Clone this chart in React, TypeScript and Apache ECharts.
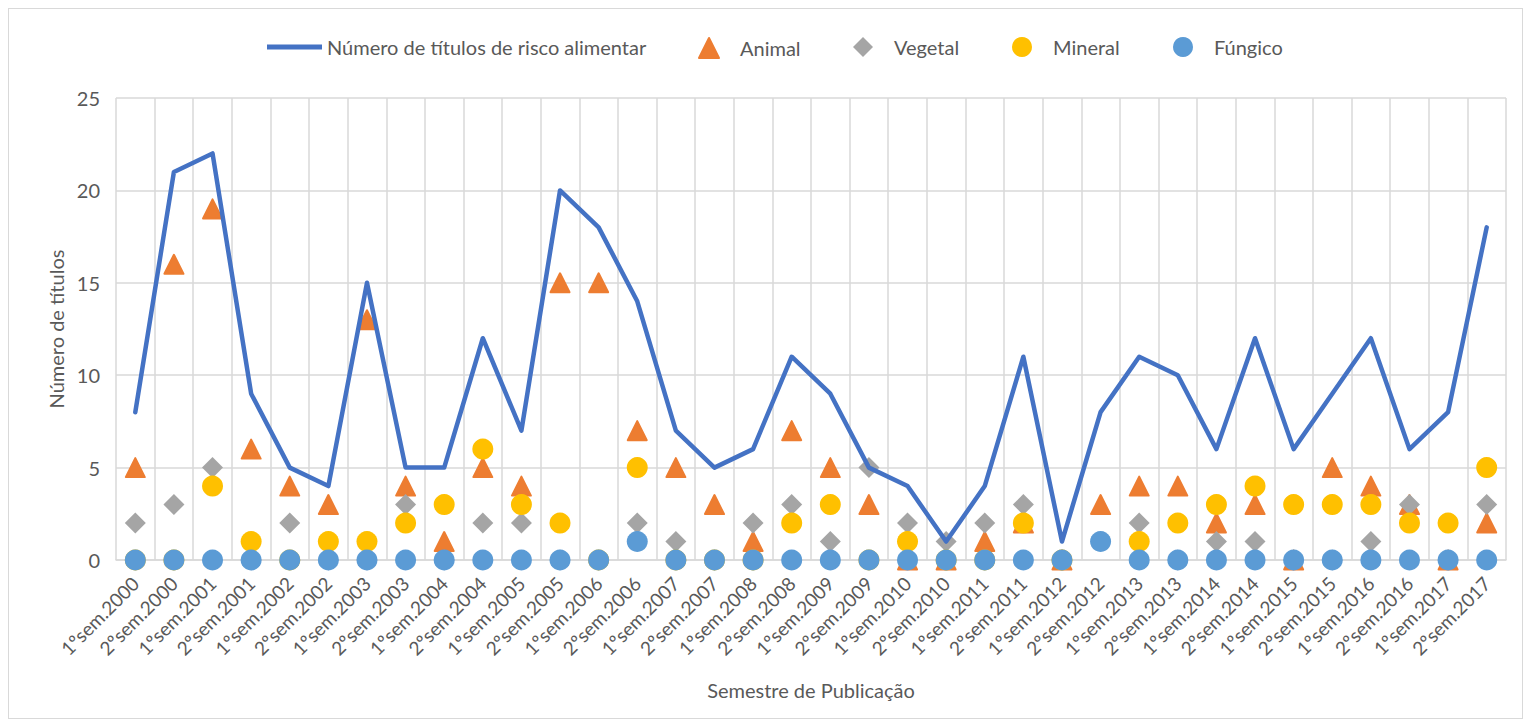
import React, { useEffect, useRef } from "react";
import * as echarts from "echarts";

const categories = [
  "1ºsem.2000", "2ºsem.2000", "1ºsem.2001", "2ºsem.2001", "1ºsem.2002", "2ºsem.2002",
  "1ºsem.2003", "2ºsem.2003", "1ºsem.2004", "2ºsem.2004", "1ºsem.2005", "2ºsem.2005",
  "1ºsem.2006", "2ºsem.2006", "1ºsem.2007", "2ºsem.2007", "1ºsem.2008", "2ºsem.2008",
  "1ºsem.2009", "2ºsem.2009", "1ºsem.2010", "2ºsem.2010", "1ºsem.2011", "2ºsem.2011",
  "1ºsem.2012", "2ºsem.2012", "1ºsem.2013", "2ºsem.2013", "1ºsem.2014", "2ºsem.2014",
  "1ºsem.2015", "2ºsem.2015", "1ºsem.2016", "2ºsem.2016", "1ºsem.2017", "2ºsem.2017",
];

const totalTitles = [8, 21, 22, 9, 5, 4, 15, 5, 5, 12, 7, 20, 18, 14, 7, 5, 6, 11, 9, 5, 4, 1, 4, 11, 1, 8, 11, 10, 6, 12, 6, 9, 12, 6, 8, 18];
const animal = [5, 16, 19, 6, 4, 3, 13, 4, 1, 5, 4, 15, 15, 7, 5, 3, 1, 7, 5, 3, 0, 0, 1, 2, 0, 3, 4, 4, 2, 3, 0, 5, 4, 3, 0, 2];
const vegetal = [2, 3, 5, 0, 2, 0, 0, 3, 0, 2, 2, 0, 0, 2, 1, 0, 2, 3, 1, 5, 2, 1, 2, 3, 0, null, 2, 0, 1, 1, 0, 0, 1, 3, 0, 3];
const mineral = [0, 0, 4, 1, 0, 1, 1, 2, 3, 6, 3, 2, 0, 5, 0, 0, 0, 2, 3, 0, 1, 0, 0, 2, 0, null, 1, 2, 3, 4, 3, 3, 3, 2, 2, 5];
const fungico = [0, 0, 0, 0, 0, 0, 0, 0, 0, 0, 0, 0, 0, 1, 0, 0, 0, 0, 0, 0, 0, 0, 0, 0, 0, 1, 0, 0, 0, 0, 0, 0, 0, 0, 0, 0];

const yTicks = [0, 5, 10, 15, 20, 25];

const LINE_NAME = "Número de títulos de risco alimentar";
const scatterNames = ["Animal", "Vegetal", "Mineral", "Fúngico"];
const scatterIcons = ["triangle", "diamond", "circle", "circle"];
const scatterColors = ["#ED7D31", "#A5A5A5", "#FFC000", "#5B9BD5"];
const legendLefts = [689, 844, 1003, 1164];

const FONT = "Lato, 'Liberation Sans', sans-serif";
const TXT = "#595959";

export default function App() {
  const ref = useRef<HTMLDivElement>(null);
  useEffect(() => {
    if (!ref.current) return;
    const chart = echarts.init(ref.current, undefined, { renderer: "svg" });
    const scatter = (name: string, data: (number | null)[], symbol: string, color: string, size: number) => ({
      name,
      type: "scatter",
      data: data.map((v) => (v === null ? "-" : v)),
      symbol,
      symbolSize: size,
      itemStyle: { color, borderColor: color, borderWidth: symbol === "triangle" ? 2 : 0, borderJoin: "round", opacity: 1 },
      emphasis: { disabled: true },
    });
    const legendText = { fontFamily: FONT, fontSize: 20, color: TXT, lineHeight: 20 };
    const legends: any[] = [
      {
        top: 28,
        left: 258,
        padding: 0,
        itemWidth: 55,
        itemHeight: 5,
        textStyle: legendText,
        data: [{ name: LINE_NAME, icon: "rect", itemStyle: { color: "#4472C4" } }],
      },
    ];
    scatterNames.forEach((n, i) => {
      legends.push({
        top: 28,
        left: legendLefts[i],
        padding: 0,
        itemWidth: 20,
        itemHeight: 20,
        textStyle: { ...legendText, padding: [0, 0, 0, 16] },
        data: [{ name: n, icon: scatterIcons[i] }],
      });
    });
    chart.setOption({
      animation: false,
      textStyle: { fontFamily: FONT, color: TXT },
      legend: legends,
      grid: { left: 107, right: 16, top: 89, bottom: 158, containLabel: false },
      xAxis: {
        type: "category",
        data: categories,
        boundaryGap: true,
        name: "Semestre de Publicação",
        nameLocation: "middle",
        nameGap: 120,
        nameTextStyle: { fontFamily: FONT, fontSize: 20, color: TXT },
        axisLine: { lineStyle: { color: "#d9d9d9", width: 1.5 } },
        axisTick: { show: false },
        splitLine: { show: true, lineStyle: { color: "#d9d9d9", width: 1.5 } },
        axisLabel: { rotate: 45, interval: 0, fontFamily: FONT, fontSize: 19, color: TXT, margin: 20 },
      },
      yAxis: {
        type: "value",
        min: yTicks[0],
        max: yTicks[yTicks.length - 1],
        interval: 5,
        name: "Número de títulos",
        nameLocation: "middle",
        nameGap: 50,
        nameTextStyle: { fontFamily: FONT, fontSize: 20, color: TXT },
        axisLine: { show: false },
        axisTick: { show: false },
        splitLine: { lineStyle: { color: "#d9d9d9", width: 1.5 } },
        axisLabel: { fontFamily: FONT, fontSize: 20, color: TXT, margin: 16 },
      },
      series: [
        {
          name: LINE_NAME,
          type: "line",
          data: totalTitles,
          symbol: "none",
          lineStyle: { color: "#4472C4", width: 4.5, join: "round", cap: "round" },
          itemStyle: { color: "#4472C4" },
          emphasis: { disabled: true },
        },
        scatter(scatterNames[0], animal, scatterIcons[0], scatterColors[0], 19),
        scatter(scatterNames[1], vegetal, scatterIcons[1], scatterColors[1], 21),
        scatter(scatterNames[2], mineral, scatterIcons[2], scatterColors[2], 21),
        scatter(scatterNames[3], fungico, scatterIcons[3], scatterColors[3], 21),
      ],
    });
    return () => chart.dispose();
  }, []);
  return (
    <div style={{ width: 1515, height: 711, border: "1px solid #d9d9d9", boxSizing: "border-box", position: "relative", background: "#fff" }}>
      <div ref={ref} style={{ position: "absolute", left: 0, top: 0, width: 1513, height: 709 }} />
    </div>
  );
}
